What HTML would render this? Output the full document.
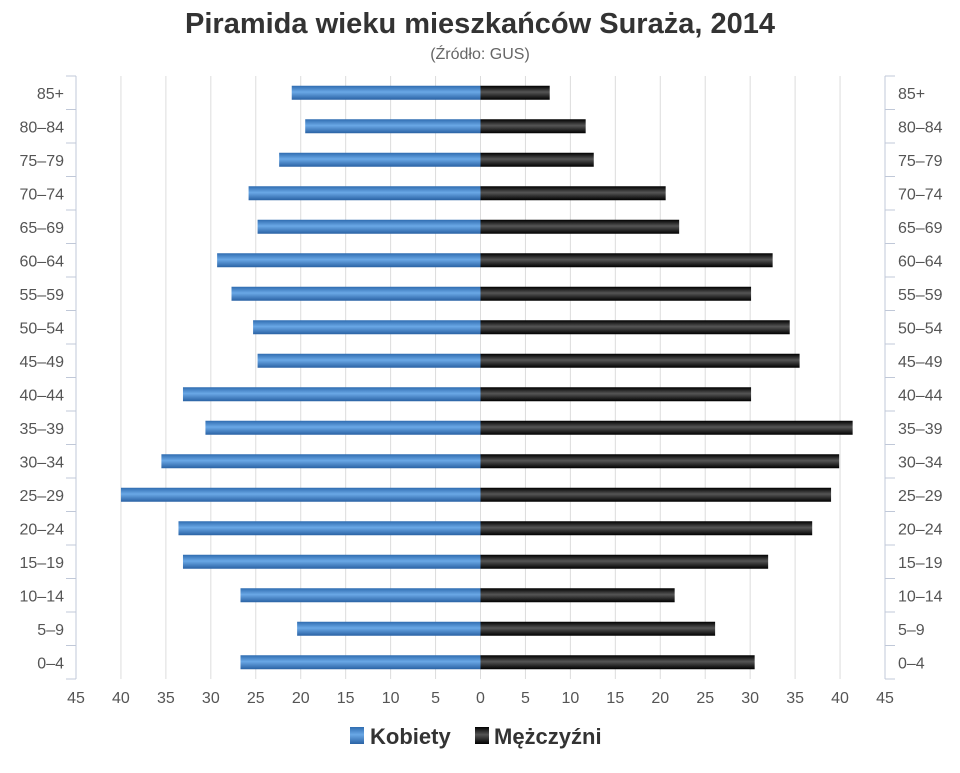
<!DOCTYPE html>
<html><head><meta charset="utf-8"><style>
body{margin:0;background:#fff;}
svg text{font-family:"Liberation Sans","DejaVu Sans",sans-serif;}
</style></head><body>
<svg id="chart" width="960" height="768" xmlns="http://www.w3.org/2000/svg">
<defs>
<linearGradient id="gb" x1="0" y1="0" x2="0" y2="1"><stop offset="0" stop-color="#2f6cb0"/><stop offset="0.45" stop-color="#6aa8e6"/><stop offset="1" stop-color="#2a62a4"/></linearGradient>
<linearGradient id="gk" x1="0" y1="0" x2="0" y2="1"><stop offset="0" stop-color="#000"/><stop offset="0.45" stop-color="#555"/><stop offset="1" stop-color="#000"/></linearGradient>
</defs>
<text x="480" y="33" text-anchor="middle" font-size="29" font-weight="bold" fill="#333">Piramida wieku mieszkańców Suraża, 2014</text>
<text x="480" y="59" text-anchor="middle" font-size="16" fill="#666">(Źródło: GUS)</text>
<g id="grid"></g><g id="bars"></g><g id="axes"></g>
<g>
<g><rect x="350" y="727" width="14" height="17" fill="url(#gb)"/><text x="370" y="744" font-size="22" font-weight="bold" fill="#333">Kobiety</text></g>
<g><rect x="475" y="727" width="14" height="17" fill="url(#gk)"/><text x="494" y="744" font-size="22" font-weight="bold" fill="#333">Mężczyźni</text></g>
</g>
</svg>
<script>
const categories=["85+","80–84","75–79","70–74","65–69","60–64","55–59","50–54","45–49","40–44","35–39","30–34","25–29","20–24","15–19","10–14","5–9","0–4"];
const women=[21,19.5,22.4,25.8,24.8,29.3,27.7,25.3,24.8,33.1,30.6,35.5,40,33.6,33.1,26.7,20.4,26.7];
const men=[7.7,11.7,12.6,20.6,22.1,32.5,30.1,34.4,35.5,30.1,41.4,39.9,39,36.9,32,21.6,26.1,30.5];
const ticks=[45,40,35,30,25,20,15,10,5,0,5,10,15,20,25,30,35,40,45];
const NS="http://www.w3.org/2000/svg";
const x0=480.5,unit=404.5/45,plotTop=76,plotBottom=679,rowH=(plotBottom-plotTop)/categories.length;
const xs=v=>x0+v*unit;
const yc=i=>plotTop+rowH*(i+0.5);
function mk(p,t,a){const e=document.createElementNS(NS,t);for(const k in a)e.setAttribute(k,a[k]);p.appendChild(e);return e;}
const grid=document.getElementById('grid'),bars=document.getElementById('bars'),axes=document.getElementById('axes');
ticks.forEach((t,i)=>{const v=i<9?-t:t;const x=xs(v);
 if(Math.abs(v)<45){const l=mk(grid,'line',{x1:x,x2:x,y1:plotTop,y2:plotBottom,stroke:'#dcdcdc','stroke-width':1});
 
 }
 const tx=mk(axes,'text',{x:x,y:703,'text-anchor':'middle','font-size':16,fill:'#555'});tx.textContent=t;
 
 
});
[[xs(-45),-10],[xs(45),10]].forEach(([ax,d])=>{
 const l=mk(axes,'line',{x1:ax,x2:ax,y1:plotTop,y2:plotBottom,stroke:'#c0c8d8','stroke-width':1});
 
 
 for(let i=0;i<=categories.length;i++){const y=plotTop+rowH*i;mk(axes,'line',{x1:ax,x2:ax+d,y1:y,y2:y,stroke:'#c0c8d8'});}
 categories.forEach((c,i)=>{const t=mk(axes,'text',{x:d<0?ax-12:ax+13,y:yc(i)+6,'text-anchor':d<0?'end':'start','font-size':16,fill:'#555'});t.textContent=c;
 
 });
});
categories.forEach((c,i)=>{
 const w=women[i],m=men[i];
 const b1=mk(bars,'rect',{x:xs(-w),y:yc(i)-7,width:xs(0)-xs(-w),height:14,fill:'url(#gb)'});
 
 
 const b2=mk(bars,'rect',{x:xs(0),y:yc(i)-7,width:xs(m)-xs(0),height:14,fill:'url(#gk)'});
 
 
});
</script>
</body></html>
